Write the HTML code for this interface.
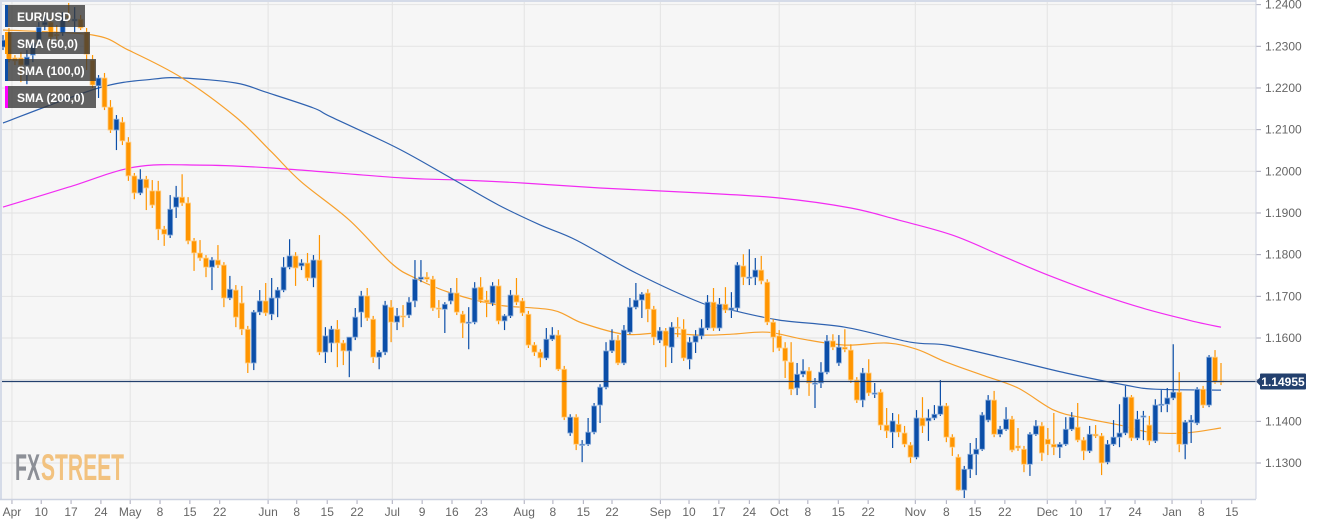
<!DOCTYPE html>
<html><head><meta charset="utf-8"><style>
html,body{margin:0;padding:0;background:#fff;}
svg{display:block;font-family:"Liberation Sans",sans-serif;}
</style></head><body>
<svg id="chart" width="1326" height="525" viewBox="0 0 1326 525" xmlns="http://www.w3.org/2000/svg">
<rect x="0" y="0" width="1256" height="499" fill="#f6f6f6"/>
<g id="grid"></g>
<g id="smas"></g>
<g id="candles"></g>
<g id="axes"></g>
<line x1="0" y1="1" x2="1256" y2="1" stroke="#d5dbe8" stroke-width="2"/>
<line x1="1" y1="0" x2="1" y2="499" stroke="#d5dbe8" stroke-width="2"/>
<line x1="1256" y1="0" x2="1256" y2="499" stroke="#ccd2e0" stroke-width="1"/>
<line x1="0" y1="499.5" x2="1256" y2="499.5" stroke="#ccd2e0" stroke-width="1.5"/>
<g>
<text x="15" y="480" font-size="37" font-weight="bold" fill="#8c8f96" textLength="25" lengthAdjust="spacingAndGlyphs">FX</text>
<text x="41" y="480" font-size="37" font-weight="bold" fill="#f2c27f" textLength="83" lengthAdjust="spacingAndGlyphs">STREET</text>
</g>
<g font-weight="600">
<g><rect x="5" y="5" width="80" height="22" fill="rgba(55,55,55,0.78)"/><rect x="5" y="5" width="3" height="22" fill="#0d4ea6"/><text x="17" y="21" font-size="12" fill="#fff">EUR/USD</text></g>
<g><rect x="5" y="32" width="85" height="22" fill="rgba(55,55,55,0.78)"/><rect x="5" y="32" width="3" height="22" fill="#ff9800"/><text x="17" y="48" font-size="12" fill="#fff">SMA (50,0)</text></g>
<g><rect x="5" y="59" width="91" height="22" fill="rgba(55,55,55,0.78)"/><rect x="5" y="59" width="3" height="22" fill="#0d4ea6"/><text x="17" y="75" font-size="12" fill="#fff">SMA (100,0)</text></g>
<g><rect x="5" y="86" width="91" height="22" fill="rgba(55,55,55,0.78)"/><rect x="5" y="86" width="3" height="22" fill="#ff00ff"/><text x="17" y="102" font-size="12" fill="#fff">SMA (200,0)</text></g>
</g>
</svg>
<script>
const opens=[1.2298,1.2334,1.2272,1.2272,1.2255,1.2279,1.2315,1.2351,1.2358,1.2329,1.2332,1.2373,1.2361,1.2365,1.2334,1.2267,1.2205,1.2224,1.2154,1.2099,1.2118,1.2070,1.1989,1.1948,1.1981,1.1953,1.1953,1.1861,1.1847,1.1914,1.1938,1.1924,1.1833,1.1804,1.1792,1.1770,1.1787,1.1775,1.1696,1.1715,1.1684,1.1621,1.1540,1.1662,1.1689,1.1657,1.1696,1.1715,1.1770,1.1797,1.1773,1.1780,1.1744,1.1787,1.1566,1.1588,1.1621,1.1588,1.1569,1.1602,1.1662,1.1701,1.1645,1.1554,1.1566,1.1674,1.1638,1.1653,1.1655,1.1689,1.1741,1.1746,1.1741,1.1672,1.1669,1.1689,1.1708,1.1657,1.1636,1.1638,1.1722,1.1691,1.1684,1.1725,1.1641,1.1653,1.1703,1.1689,1.1657,1.1583,1.1566,1.1552,1.1597,1.1607,1.1525,1.1372,1.1410,1.1343,1.1345,1.1374,1.1439,1.1482,1.1569,1.1595,1.1540,1.1614,1.1674,1.1691,1.1708,1.1669,1.1595,1.1617,1.1578,1.1626,1.1621,1.1549,1.1590,1.1605,1.1624,1.1686,1.1624,1.1681,1.1667,1.1672,1.1773,1.1744,1.1746,1.1763,1.1734,1.1638,1.1605,1.1576,1.1542,1.1480,1.1513,1.1521,1.1489,1.1492,1.1518,1.1593,1.1540,1.1578,1.1571,1.1499,1.1451,1.1516,1.1465,1.1470,1.1391,1.1374,1.1393,1.1372,1.1343,1.1314,1.1408,1.1401,1.1408,1.1417,1.1437,1.1362,1.1314,1.1235,1.1285,1.1321,1.1333,1.1403,1.1451,1.1369,1.1381,1.1405,1.1341,1.1333,1.1297,1.1369,1.1389,1.1357,1.1345,1.1338,1.1345,1.1381,1.1386,1.1355,1.1329,1.1369,1.1365,1.1302,1.1345,1.1362,1.1372,1.1458,1.1360,1.1410,1.1391,1.1353,1.1439,1.1441,1.1456,1.1470,1.1345,1.1398,1.1396,1.1477,1.1439,1.1554,1.1497];
const highs=[1.2327,1.2344,1.2279,1.2286,1.2291,1.2315,1.2358,1.2375,1.2368,1.2351,1.2382,1.2404,1.2394,1.2375,1.2344,1.2279,1.2231,1.2236,1.2171,1.2135,1.2130,1.2082,1.1996,1.2005,1.1989,1.1979,1.1977,1.1869,1.1943,1.1965,1.1993,1.1938,1.1840,1.1835,1.1799,1.1794,1.1823,1.1782,1.1749,1.1727,1.1725,1.1629,1.1667,1.1715,1.1732,1.1744,1.1722,1.1794,1.1837,1.1806,1.1789,1.1804,1.1799,1.1847,1.1626,1.1629,1.1643,1.1595,1.1602,1.1672,1.1713,1.1720,1.1653,1.1571,1.1689,1.1691,1.1672,1.1679,1.1698,1.1787,1.1787,1.1758,1.1749,1.1691,1.1686,1.1720,1.1744,1.1665,1.1674,1.1734,1.1746,1.1713,1.1734,1.1741,1.1657,1.1715,1.1744,1.1696,1.1665,1.1590,1.1573,1.1624,1.1626,1.1619,1.1533,1.1417,1.1417,1.1355,1.1408,1.1444,1.1489,1.1590,1.1621,1.1607,1.1631,1.1696,1.1732,1.1710,1.1717,1.1677,1.1626,1.1624,1.1638,1.1650,1.1645,1.1602,1.1619,1.1645,1.1703,1.1720,1.1696,1.1722,1.1710,1.1782,1.1801,1.1813,1.1792,1.1797,1.1741,1.1645,1.1619,1.1590,1.1590,1.1540,1.1549,1.1530,1.1504,1.1542,1.1607,1.1609,1.1607,1.1621,1.1585,1.1506,1.1528,1.1549,1.1492,1.1477,1.1432,1.1420,1.1417,1.1389,1.1350,1.1427,1.1458,1.1429,1.1439,1.1499,1.1444,1.1369,1.1321,1.1293,1.1348,1.1360,1.1422,1.1463,1.1473,1.1389,1.1434,1.1413,1.1384,1.1341,1.1374,1.1403,1.1398,1.1384,1.1420,1.1350,1.1410,1.1422,1.1444,1.1362,1.1389,1.1391,1.1372,1.1355,1.1403,1.1441,1.1485,1.1463,1.1425,1.1425,1.1413,1.1453,1.1475,1.1480,1.1585,1.1518,1.1403,1.1415,1.1482,1.1485,1.1559,1.1571,1.1540];
const lows=[1.2291,1.2262,1.2255,1.2214,1.2209,1.2262,1.2303,1.2339,1.2315,1.2315,1.2325,1.2358,1.2334,1.2339,1.2243,1.2200,1.2176,1.2147,1.2092,1.2051,1.2063,1.1977,1.1933,1.1943,1.1907,1.1912,1.1835,1.1821,1.1840,1.1888,1.1917,1.1825,1.1761,1.1785,1.1746,1.1715,1.1768,1.1674,1.1691,1.1626,1.1607,1.1516,1.1523,1.1655,1.1653,1.1643,1.1650,1.1710,1.1765,1.1725,1.1763,1.1737,1.1722,1.1559,1.1540,1.1566,1.1530,1.1535,1.1506,1.1595,1.1626,1.1641,1.1540,1.1525,1.1559,1.1590,1.1619,1.1626,1.1648,1.1674,1.1734,1.1734,1.1665,1.1648,1.1612,1.1681,1.1655,1.1600,1.1573,1.1633,1.1684,1.1650,1.1677,1.1633,1.1619,1.1648,1.1679,1.1653,1.1576,1.1557,1.1530,1.1547,1.1593,1.1521,1.1403,1.1365,1.1331,1.1302,1.1341,1.1369,1.1396,1.1477,1.1564,1.1535,1.1535,1.1609,1.1669,1.1648,1.1638,1.1583,1.1588,1.1530,1.1540,1.1602,1.1545,1.1525,1.1564,1.1597,1.1619,1.1617,1.1617,1.1660,1.1648,1.1665,1.1727,1.1727,1.1727,1.1729,1.1631,1.1566,1.1569,1.1504,1.1463,1.1463,1.1506,1.1461,1.1432,1.1480,1.1513,1.1571,1.1533,1.1566,1.1492,1.1444,1.1434,1.1461,1.1456,1.1379,1.1360,1.1336,1.1362,1.1338,1.1300,1.1309,1.1372,1.1353,1.1403,1.1413,1.1350,1.1317,1.1233,1.1216,1.1264,1.1271,1.1329,1.1398,1.1362,1.1362,1.1377,1.1326,1.1329,1.1278,1.1269,1.1365,1.1305,1.1319,1.1319,1.1312,1.1341,1.1377,1.1350,1.1307,1.1324,1.1360,1.1271,1.1297,1.1341,1.1338,1.1367,1.1353,1.1355,1.1355,1.1343,1.1348,1.1422,1.1422,1.1451,1.1326,1.1309,1.1348,1.1391,1.1432,1.1434,1.1490,1.1487];
const closes=[1.2315,1.2267,1.2265,1.2255,1.2274,1.2308,1.2346,1.2358,1.2322,1.2325,1.2370,1.2368,1.2365,1.2344,1.2281,1.2207,1.2224,1.2154,1.2099,1.2125,1.2073,1.1989,1.1948,1.1981,1.1960,1.1919,1.1861,1.1849,1.1909,1.1938,1.1924,1.1833,1.1804,1.1792,1.1770,1.1787,1.1775,1.1696,1.1717,1.1650,1.1621,1.1540,1.1662,1.1689,1.1660,1.1696,1.1715,1.1770,1.1797,1.1768,1.1780,1.1744,1.1787,1.1566,1.1605,1.1621,1.1588,1.1569,1.1602,1.1650,1.1701,1.1648,1.1554,1.1566,1.1679,1.1638,1.1653,1.1650,1.1686,1.1741,1.1746,1.1741,1.1672,1.1669,1.1681,1.1708,1.1662,1.1636,1.1638,1.1720,1.1691,1.1686,1.1725,1.1641,1.1653,1.1703,1.1686,1.1660,1.1583,1.1566,1.1552,1.1597,1.1607,1.1525,1.1410,1.1410,1.1345,1.1345,1.1374,1.1437,1.1482,1.1569,1.1595,1.1540,1.1619,1.1674,1.1691,1.1705,1.1669,1.1602,1.1617,1.1581,1.1626,1.1624,1.1552,1.1590,1.1605,1.1624,1.1686,1.1624,1.1681,1.1667,1.1672,1.1775,1.1746,1.1746,1.1763,1.1737,1.1638,1.1602,1.1576,1.1545,1.1477,1.1513,1.1521,1.1492,1.1492,1.1518,1.1593,1.1578,1.1578,1.1573,1.1499,1.1451,1.1516,1.1468,1.1468,1.1391,1.1377,1.1401,1.1374,1.1345,1.1314,1.1408,1.1389,1.1408,1.1417,1.1437,1.1362,1.1338,1.1235,1.1285,1.1321,1.1333,1.1415,1.1451,1.1369,1.1381,1.1405,1.1331,1.1336,1.1297,1.1369,1.1389,1.1324,1.1345,1.1338,1.1345,1.1381,1.1410,1.1355,1.1329,1.1369,1.1365,1.1300,1.1345,1.1362,1.1372,1.1458,1.1360,1.1405,1.1413,1.1353,1.1439,1.1441,1.1456,1.1470,1.1345,1.1398,1.1403,1.1477,1.1439,1.1554,1.1494,1.1494];

const sma50Idx=[0,15,21,30,39,45,50,58,65,69,75,83,92,97,104,110,117,122,128,134,141,148,153,158,164,170,176,181,187,192,198,204];
const sma50Val=[1.2339,1.2327,1.2291,1.2224,1.2130,1.2046,1.1974,1.1883,1.1780,1.1744,1.1708,1.1679,1.1667,1.1636,1.1609,1.1612,1.1607,1.1609,1.1614,1.1597,1.1583,1.1588,1.1573,1.1542,1.1511,1.1480,1.1427,1.1408,1.1391,1.1374,1.1372,1.1384];
const sma100Idx=[0,16,25,30,39,44,52,55,66,75,83,90,96,106,117,122,130,141,152,158,167,178,188,193,204];
const sma100Val=[1.2116,1.2200,1.2221,1.2224,1.2212,1.2190,1.2152,1.2130,1.2056,1.1984,1.1919,1.1871,1.1835,1.1756,1.1684,1.1667,1.1643,1.1626,1.1590,1.1583,1.1554,1.1516,1.1487,1.1477,1.1475];
const sma200Idx=[0,11,22,33,45,67,77,87,100,117,130,142,150,159,167,175,184,192,200,204];
const sma200Val=[1.1914,1.1962,1.2010,1.2015,1.2008,1.1984,1.1979,1.1972,1.1960,1.1948,1.1936,1.1912,1.1883,1.1847,1.1799,1.1751,1.1703,1.1667,1.1638,1.1626];

const yTicks=[1.13,1.14,1.15,1.16,1.17,1.18,1.19,1.20,1.21,1.22,1.23,1.24];
const xTickLabels=["Apr","10","17","24","May","8","15","22","Jun","8","15","22","Jul","9","16","23","Aug","8","15","22","Sep","10","17","24","Oct","8","15","22","Nov","8","15","22","Dec","10","17","24","Jan","8","15"];
const xTickIdx=[1.5,6.4,11.4,16.4,21.3,26.3,31.3,36.3,44.4,49.2,54.3,59.3,65.2,70.2,75.2,80.1,87.3,92.1,97.2,102.0,110.1,114.9,119.9,125.0,130.0,134.8,139.9,144.9,152.8,158.0,162.8,167.8,174.9,179.7,184.6,189.6,195.8,200.7,205.8];
const monthLabels=["Apr","May","Jun","Jul","Aug","Sep","Oct","Nov","Dec","Jan"];
const lastPrice=1.14955;

const NS="http://www.w3.org/2000/svg";
const N=closes.length;
function xs(i){return 3+i*(1218/(N-1));}
function ys(p){return 463-(p-1.13)*4167;}
function mk(tag,attrs,parent){const e=document.createElementNS(NS,tag);for(const k in attrs)e.setAttribute(k,attrs[k]);parent.appendChild(e);return e;}

const grid=document.getElementById('grid');
const axes=document.getElementById('axes');
yTicks.forEach(v=>{
  const y=ys(v);
  const gl=mk('line',{x1:0,x2:1256,y1:y,y2:y,stroke:'#e3e3e3','stroke-width':1},grid);
  
  
  const tk=mk('line',{x1:1256,x2:1261,y1:y,y2:y,stroke:'#aab',"stroke-width":1},axes);
  
  
  const t=mk('text',{x:1265,y:y+4,'font-size':12,fill:'#666'},axes);
  
  
  t.textContent=v.toFixed(4);
});
xTickLabels.forEach((lab,k)=>{
  const x=xs(xTickIdx[k]);
  if(monthLabels.includes(lab)){
    const gl=mk('line',{x1:x,x2:x,y1:0,y2:499,stroke:'#e3e3e3','stroke-width':1},grid);
    
    
  }
  const tk=mk('line',{x1:x,x2:x,y1:499,y2:504,stroke:'#aab','stroke-width':1},axes);
  
  
  const t=mk('text',{x:x,y:516,'font-size':12,fill:'#666','text-anchor':'middle'},axes);
  
  
  t.textContent=lab;
});

const smas=document.getElementById('smas');
function drawSma(idx,vals,color,name){
  const P=idx.map((i,k)=>[xs(i),ys(vals[k])]);
  let d='M'+P[0][0].toFixed(1)+','+P[0][1].toFixed(1);
  for(let k=0;k<P.length-1;k++){
    const p0=P[Math.max(0,k-1)],p1=P[k],p2=P[k+1],p3=P[Math.min(P.length-1,k+2)];
    const c1=[p1[0]+(p2[0]-p0[0])/6,p1[1]+(p2[1]-p0[1])/6];
    const c2=[p2[0]-(p3[0]-p1[0])/6,p2[1]-(p3[1]-p1[1])/6];
    d+=' C'+c1[0].toFixed(1)+','+c1[1].toFixed(1)+' '+c2[0].toFixed(1)+','+c2[1].toFixed(1)+' '+p2[0].toFixed(1)+','+p2[1].toFixed(1);
  }
  const pl=mk('path',{d:d,fill:'none',stroke:color,'stroke-width':1.2},smas);
  
  
}
drawSma(sma200Idx,sma200Val,'#f22cf2','sma-200-line');
drawSma(sma100Idx,sma100Val,'#2f62b0','sma-100-line');
drawSma(sma50Idx,sma50Val,'#f7a02c','sma-50-line');

const cg=document.getElementById('candles');
for(let i=0;i<N;i++){
  const up=closes[i]>=opens[i];
  const col=up?'#0b4ea8':'#ff9500';
  const edge=up?'#8fb0dc':'#ffd08a';
  const x=xs(i);
  const g=mk('g',{},cg);
  
  
  mk('line',{x1:x,x2:x,y1:ys(highs[i]),y2:ys(lows[i]),stroke:col,'stroke-width':1.2},g);
  const top=ys(Math.max(opens[i],closes[i]));
  const h=Math.max(1.2,Math.abs(ys(opens[i])-ys(closes[i])));
  mk('rect',{x:x-2.5,y:top,width:5,height:h,fill:col,stroke:edge,'stroke-width':0.8},g);
}

const py=ys(lastPrice);
const pl=mk('line',{x1:0,x2:1256,y1:py,y2:py,stroke:'#23406e','stroke-width':1.2},axes);


const pg=mk('g',{},axes);


mk('polygon',{points:`1256,${py} 1260,${py-4} 1260,${py+4}`,fill:'#23406e'},pg);
mk('rect',{x:1260,y:py-8,width:46,height:16,fill:'#23406e',rx:1},pg);
const pt=mk('text',{x:1283,y:py+4.5,'font-size':12,'font-weight':'bold',fill:'#fff','text-anchor':'middle'},pg);
pt.textContent=lastPrice.toFixed(5);
</script>
</body></html>
